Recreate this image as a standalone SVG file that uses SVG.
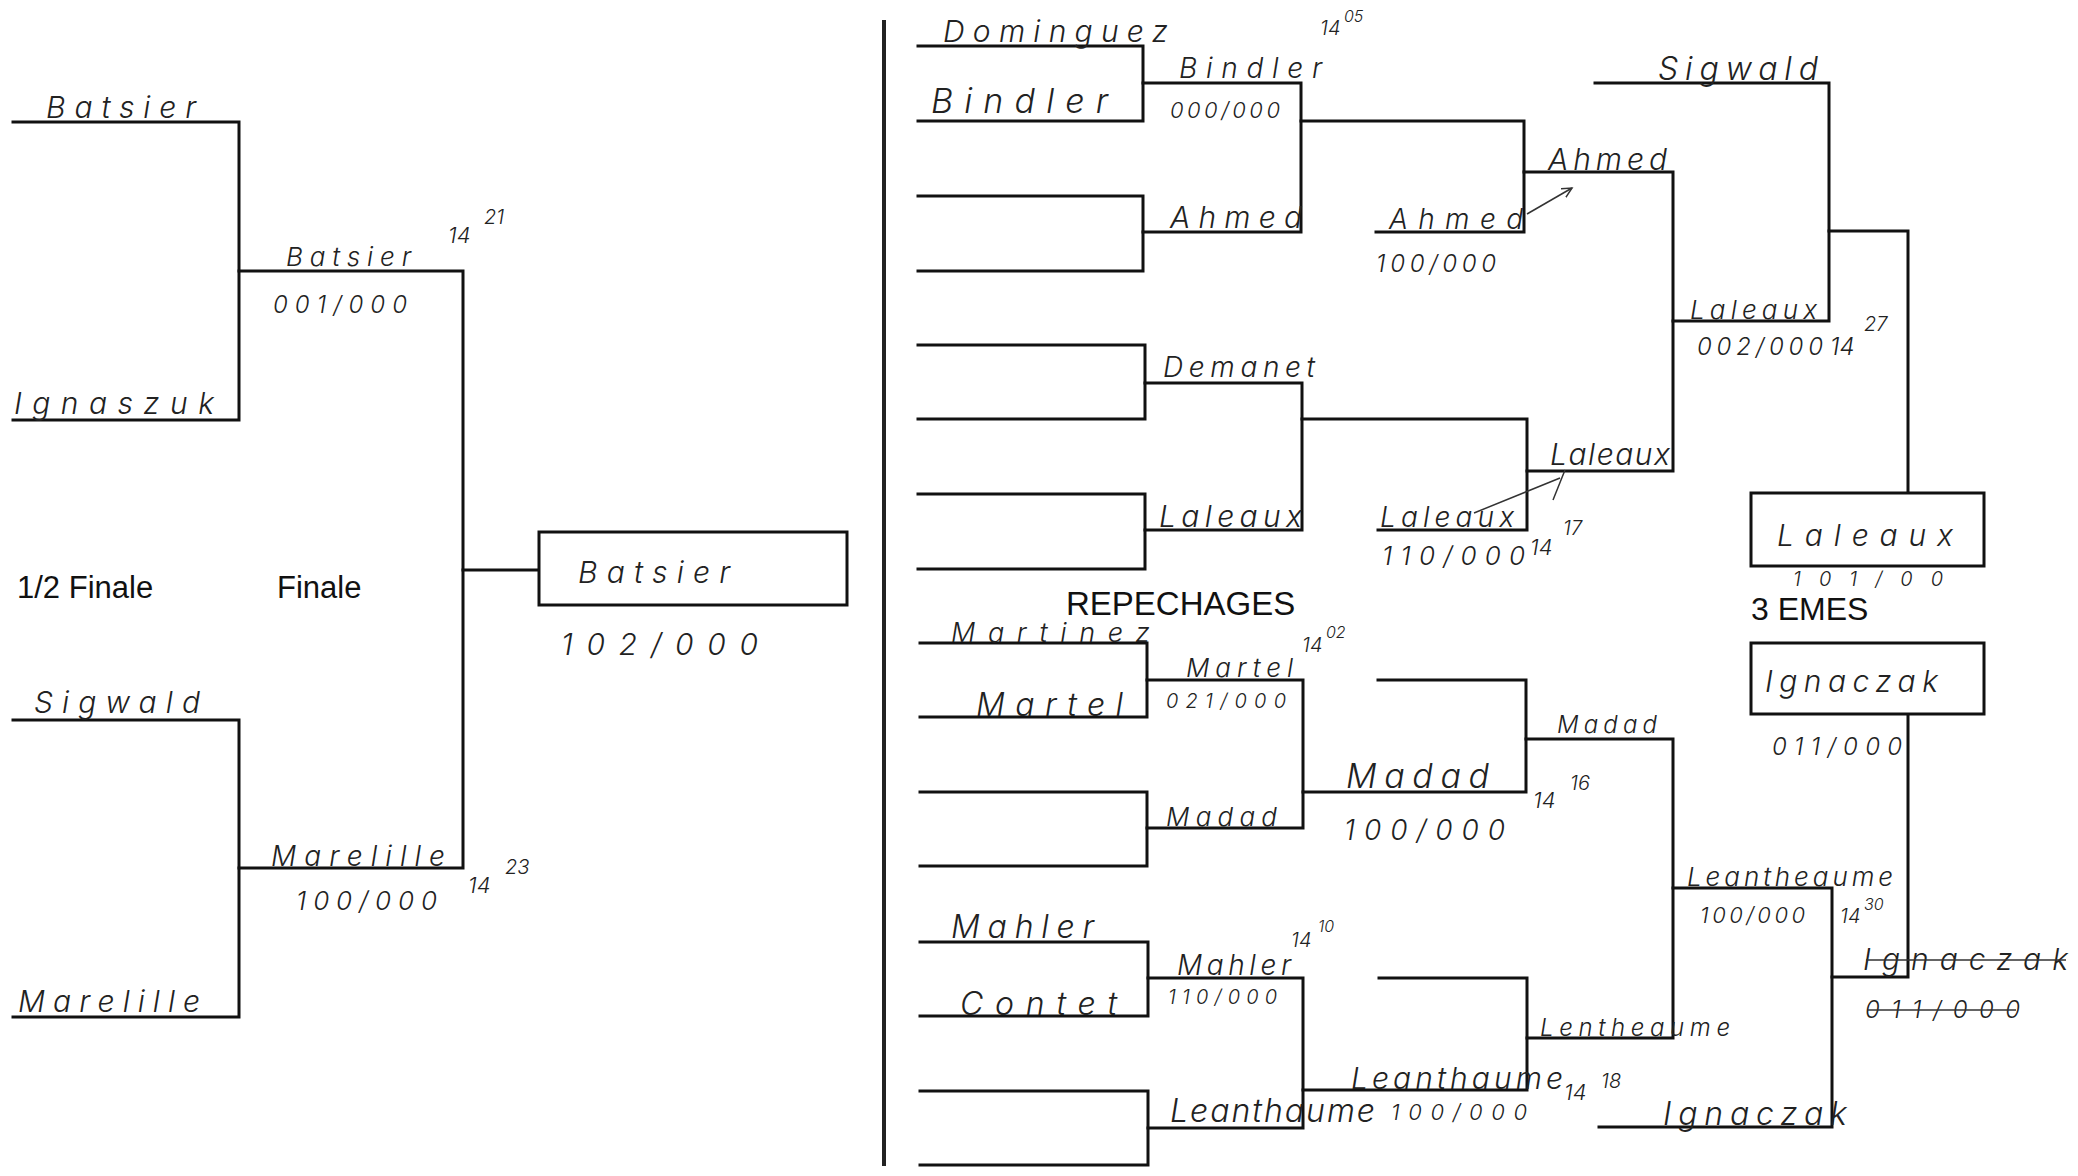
<svg xmlns="http://www.w3.org/2000/svg" width="2078" height="1176" viewBox="0 0 2078 1176">
<style>
.ln{fill:none;stroke:#111;stroke-width:3;stroke-linecap:square}
.div{fill:none;stroke:#222;stroke-width:4}
.box{fill:#fff;stroke:#111;stroke-width:3}
.thin{fill:none;stroke:#333;stroke-width:1.5}
.hw{font-family:Inter,'Open Sans','DejaVu Sans',sans-serif;font-weight:300;font-style:italic;fill:#222}
.pr{font-family:'Liberation Sans',Arial,sans-serif;fill:#111}
</style>
<defs>
<marker id="ah" markerWidth="12" markerHeight="12" refX="10" refY="6" orient="auto" markerUnits="userSpaceOnUse">
<path d="M0 1 L10 6 L0 11" fill="none" stroke="#333" stroke-width="1.5"/>
</marker>
</defs>
<rect width="2078" height="1176" fill="#fff"/>

<g id="connectors">
<path class="ln" d="M13 122 H239 V420 H13"/>
<path class="ln" d="M239 271 H463 V868 H239"/>
<path class="ln" d="M13 720 H239 V1017 H13"/>
<path class="ln" d="M463 570 H539"/>
<path class="div" d="M884 20 V1166"/>
<path class="ln" d="M918 46 H1143 V121 H918"/>
<path class="ln" d="M1143 83 H1301 V232 H1143"/>
<path class="ln" d="M918 196 H1143 V271 H918"/>
<path class="ln" d="M1301 121 H1524 V232 H1376"/>
<path class="ln" d="M1524 172 H1673 V471 H1527"/>
<path class="ln" d="M1595 83 H1829 V321 H1673"/>
<path class="ln" d="M1829 231 H1908 V493"/>
<path class="ln" d="M918 345 H1145 V419 H918"/>
<path class="ln" d="M1145 383 H1302 V530 H1145"/>
<path class="ln" d="M918 494 H1145 V569 H918"/>
<path class="ln" d="M1302 419 H1527 V530 H1378"/>
<path class="ln" d="M1908 714 V977 H1832"/>
<path class="ln" d="M920 643 H1147 V717 H920"/>
<path class="ln" d="M1147 680 H1303 V828 H1147"/>
<path class="ln" d="M920 792 H1147 V866 H920"/>
<path class="ln" d="M1303 792 H1526 V680 H1378"/>
<path class="ln" d="M1526 739 H1673 V1038 H1527"/>
<path class="ln" d="M1673 888 H1832 V1127 H1599"/>
<path class="ln" d="M920 942 H1148 V1016 H920"/>
<path class="ln" d="M1148 978 H1303 V1128 H1148"/>
<path class="ln" d="M920 1091 H1148 V1165 H920"/>
<path class="ln" d="M1303 1090 H1527 V978 H1379"/>
<path class="thin" d="M1527 214 L1572 188" marker-end="url(#ah)"/>
<path class="thin" d="M1474 513 L1560 478 M1565 470 L1553 500"/>
</g>

<g id="headings">
<text class="pr" x="17" y="598" font-size="31">1/2 Finale</text>
<text class="pr" x="277" y="598" font-size="31">Finale</text>
<text class="pr" x="1066" y="615" font-size="33">REPECHAGES</text>
<text class="pr" x="1751" y="620" font-size="32">3 EMES</text>
</g>

<g id="semi1-a"><text class="hw" x="46" y="118" font-size="30" textLength="150" lengthAdjust="spacing">Batsier</text></g>
<g id="semi1-b"><text class="hw" x="14" y="414" font-size="30" textLength="200" lengthAdjust="spacing">Ignaszuk</text></g>
<g id="semi1-win">
<text class="hw" x="286" y="266" font-size="26" textLength="125" lengthAdjust="spacing">Batsier</text>
<text class="hw" x="273" y="313" font-size="24" textLength="134" lengthAdjust="spacing">001/000</text>
<text class="hw" x="448" y="243" font-size="22">14</text>
<text class="hw" x="484" y="224" font-size="20">21</text>
</g>
<g id="semi2-a"><text class="hw" x="34" y="713" font-size="30" textLength="166" lengthAdjust="spacing">Sigwald</text></g>
<g id="semi2-b"><text class="hw" x="18" y="1012" font-size="30" textLength="182" lengthAdjust="spacing">Marelille</text></g>
<g id="semi2-win">
<text class="hw" x="271" y="866" font-size="28" textLength="174" lengthAdjust="spacing">Marelille</text>
<text class="hw" x="296" y="910" font-size="26" textLength="141" lengthAdjust="spacing">100/000</text>
<text class="hw" x="468" y="893" font-size="22">14</text>
<text class="hw" x="505" y="874" font-size="20">23</text>
</g>
<g id="final-winner">
<rect class="box" x="539" y="532" width="308" height="73"/>
<text class="hw" x="578" y="583" font-size="30" textLength="152" lengthAdjust="spacing">Batsier</text>
<text class="hw" x="561" y="655" font-size="30" textLength="197" lengthAdjust="spacing">102/000</text>
</g>

<g id="r1-dominguez"><text class="hw" x="943" y="42" font-size="30" textLength="225" lengthAdjust="spacing">Dominguez</text></g>
<g id="r1-bindler"><text class="hw" x="931" y="113" font-size="34" textLength="177" lengthAdjust="spacing">Bindler</text></g>
<g id="r2-bindler">
<text class="hw" x="1179" y="78" font-size="28" textLength="143" lengthAdjust="spacing">Bindler</text>
<text class="hw" x="1170" y="118" font-size="22" textLength="110" lengthAdjust="spacing">000/000</text>
<text class="hw" x="1320" y="35" font-size="20">14</text>
<text class="hw" x="1344" y="22" font-size="16">05</text>
</g>
<g id="r2-ahmed"><text class="hw" x="1170" y="228" font-size="30" textLength="132" lengthAdjust="spacing">Ahmed</text></g>
<g id="r3-ahmed">
<text class="hw" x="1389" y="229" font-size="28" textLength="134" lengthAdjust="spacing">Ahmed</text>
<text class="hw" x="1376" y="272" font-size="24" textLength="120" lengthAdjust="spacing">100/000</text>
</g>
<g id="r4-ahmed"><text class="hw" x="1548" y="170" font-size="30" textLength="119" lengthAdjust="spacing">Ahmed</text></g>
<g id="r4-sigwald"><text class="hw" x="1658" y="80" font-size="32" textLength="160" lengthAdjust="spacing">Sigwald</text></g>
<g id="r5-laleaux">
<text class="hw" x="1690" y="319" font-size="26" textLength="127" lengthAdjust="spacing">Laleaux</text>
<text class="hw" x="1697" y="355" font-size="24" textLength="126" lengthAdjust="spacing">002/000</text>
<text class="hw" x="1830" y="355" font-size="24">14</text>
<text class="hw" x="1864" y="331" font-size="20">27</text>
</g>
<g id="r2-demanet"><text class="hw" x="1163" y="377" font-size="28" textLength="152" lengthAdjust="spacing">Demanet</text></g>
<g id="r2-laleaux"><text class="hw" x="1159" y="527" font-size="30" textLength="143" lengthAdjust="spacing">Laleaux</text></g>
<g id="r3-laleaux">
<text class="hw" x="1380" y="527" font-size="28" textLength="134" lengthAdjust="spacing">Laleaux</text>
<text class="hw" x="1382" y="565" font-size="26" textLength="143" lengthAdjust="spacing">110/000</text>
<text class="hw" x="1530" y="555" font-size="22">14</text>
<text class="hw" x="1563" y="535" font-size="20">17</text>
</g>
<g id="r4-laleaux"><text class="hw" x="1550" y="465" font-size="30" textLength="120" lengthAdjust="spacing">Laleaux</text></g>
<g id="third-laleaux">
<rect class="box" x="1751" y="493" width="233" height="73"/>
<text class="hw" x="1777" y="546" font-size="30" textLength="176" lengthAdjust="spacing">Laleaux</text>
<text class="hw" x="1793" y="586" font-size="20" textLength="150" lengthAdjust="spacing">101/00</text>
</g>
<g id="third-ignaczak">
<rect class="box" x="1751" y="643" width="233" height="71"/>
<text class="hw" x="1765" y="692" font-size="30" textLength="173" lengthAdjust="spacing">Ignaczak</text>
<text class="hw" x="1772" y="755" font-size="24" textLength="130" lengthAdjust="spacing">011/000</text>
</g>

<g id="rep-martinez"><text class="hw" x="951" y="642" font-size="27" textLength="199" lengthAdjust="spacing">Martinez</text></g>
<g id="rep-martel"><text class="hw" x="976" y="716" font-size="32" textLength="147" lengthAdjust="spacing">Martel</text></g>
<g id="rep2-martel">
<text class="hw" x="1186" y="677" font-size="26" textLength="107" lengthAdjust="spacing">Martel</text>
<text class="hw" x="1166" y="708" font-size="20" textLength="120" lengthAdjust="spacing">021/000</text>
<text class="hw" x="1302" y="652" font-size="20">14</text>
<text class="hw" x="1326" y="638" font-size="16">02</text>
</g>
<g id="rep2-madad"><text class="hw" x="1166" y="826" font-size="26" textLength="111" lengthAdjust="spacing">Madad</text></g>
<g id="rep3-madad">
<text class="hw" x="1346" y="788" font-size="34" textLength="143" lengthAdjust="spacing">Madad</text>
<text class="hw" x="1344" y="840" font-size="28" textLength="161" lengthAdjust="spacing">100/000</text>
<text class="hw" x="1533" y="808" font-size="22">14</text>
<text class="hw" x="1570" y="790" font-size="20">16</text>
</g>
<g id="rep4-madad"><text class="hw" x="1557" y="733" font-size="24" textLength="100" lengthAdjust="spacing">Madad</text></g>
<g id="rep-mahler"><text class="hw" x="951" y="938" font-size="32" textLength="143" lengthAdjust="spacing">Mahler</text></g>
<g id="rep-contet"><text class="hw" x="960" y="1015" font-size="32" textLength="157" lengthAdjust="spacing">Contet</text></g>
<g id="rep2-mahler">
<text class="hw" x="1177" y="975" font-size="28" textLength="114" lengthAdjust="spacing">Mahler</text>
<text class="hw" x="1168" y="1004" font-size="20" textLength="109" lengthAdjust="spacing">110/000</text>
<text class="hw" x="1291" y="947" font-size="20">14</text>
<text class="hw" x="1318" y="932" font-size="16">10</text>
</g>
<g id="rep2-leanthaume"><text class="hw" x="1170" y="1122" font-size="32" textLength="205" lengthAdjust="spacing">Leanthaume</text></g>
<g id="rep3-leanthaume">
<text class="hw" x="1351" y="1089" font-size="30" textLength="212" lengthAdjust="spacing">Leanthaume</text>
<text class="hw" x="1391" y="1120" font-size="22" textLength="136" lengthAdjust="spacing">100/000</text>
<text class="hw" x="1564" y="1100" font-size="22">14</text>
<text class="hw" x="1601" y="1088" font-size="20">18</text>
</g>
<g id="rep4-lentheaume"><text class="hw" x="1540" y="1036" font-size="24" textLength="190" lengthAdjust="spacing">Lentheaume</text></g>
<g id="rep5-leantheaume">
<text class="hw" x="1687" y="886" font-size="26" textLength="206" lengthAdjust="spacing">Leantheaume</text>
<text class="hw" x="1700" y="923" font-size="22" textLength="105" lengthAdjust="spacing">100/000</text>
<text class="hw" x="1840" y="923" font-size="20">14</text>
<text class="hw" x="1864" y="910" font-size="16">30</text>
</g>
<g id="rep5-ignaczak"><text class="hw" x="1663" y="1125" font-size="32" textLength="184" lengthAdjust="spacing">Ignaczak</text></g>
<g id="rep6-ignaczak-crossed">
<text class="hw" x="1863" y="970" font-size="30" textLength="205" lengthAdjust="spacing">Ignaczak</text>
<text class="hw" x="1865" y="1018" font-size="24" textLength="155" lengthAdjust="spacing">011/000</text>
<path class="thin" d="M1866 960 H2066 M1868 1010 H2016" stroke-width="2.5"/>
</g>
</svg>
